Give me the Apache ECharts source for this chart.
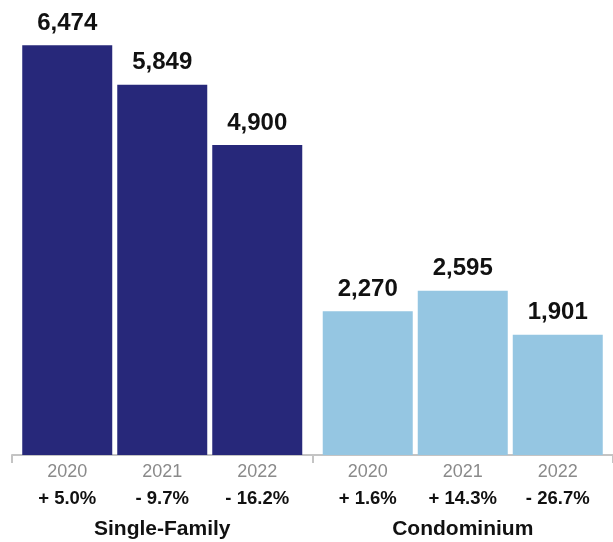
<!DOCTYPE html>
<html>
<head>
<meta charset="utf-8">
<script src="https://cdn.jsdelivr.net/npm/echarts@6/dist/echarts.min.js"></script>
<style>html,body{margin:0;padding:0;background:#fff}#c{width:613px;height:542px}</style>
</head>
<body>
<div id="c"></div>
<script>
var categories = ['Single-Family', 'Condominium'];
var years = ['2020', '2021', '2022'];
var sales2020 = [6474, 2270];
var sales2021 = [5849, 2595];
var sales2022 = [4900, 1901];
var changes = [
  ['+ 5.0%', '- 9.7%', '- 16.2%'],
  ['+ 1.6%', '+ 14.3%', '- 26.7%']
];
var groupColors = ['#27287a', '#95c6e2'];

var seriesValues = [sales2020, sales2021, sales2022];
var FONT = '"Liberation Sans", Arial, Helvetica, sans-serif';

var chart = echarts.init(document.getElementById('c'), null, {renderer: 'canvas'});
chart.setOption({
  animation: false,
  grid: {left: 12, right: 0, top: 12, bottom: 87},
  xAxis: {
    type: 'category',
    data: categories,
    axisLine: {show: true, lineStyle: {color: '#c4c4c4', width: 2}},
    axisTick: {show: true, length: 8, lineStyle: {color: '#c4c4c4', width: 2}},
    axisLabel: {
      margin: 4,
      interval: 0,
      fontFamily: FONT,
      formatter: function (v, i) {
        var ys = years.map(function (y) { return '{y|' + y + '}'; }).join('');
        var ps = changes[i].map(function (p) { return '{p|' + p + '}'; }).join('');
        return ys + '\n' + ps + '\n{g|' + v + '}';
      },
      rich: {
        y: {width: 95, align: 'center', fontSize: 18, color: '#8a8a8a', lineHeight: 26, fontFamily: FONT},
        p: {width: 95, align: 'center', fontSize: 18.5, fontWeight: 'bold', color: '#111', lineHeight: 28, fontFamily: FONT},
        g: {fontSize: 21, fontWeight: 'bold', color: '#111', lineHeight: 32, fontFamily: FONT}
      }
    }
  },
  yAxis: {type: 'value', min: 0, max: 7000, show: false, splitLine: {show: false}},
  series: seriesValues.map(function (vals, si) {
    return {
      type: 'bar',
      name: years[si],
      barWidth: 90,
      barGap: '5.56%',
      data: vals.map(function (v, ci) {
        return {value: v, itemStyle: {color: groupColors[ci]}};
      }),
      label: {
        show: true,
        position: 'top',
        distance: 10,
        fontFamily: FONT,
        fontSize: 24,
        fontWeight: 'bold',
        color: '#111',
        formatter: function (p) { return p.value.toLocaleString('en-US'); }
      }
    };
  })
});
</script>
</body>
</html>
